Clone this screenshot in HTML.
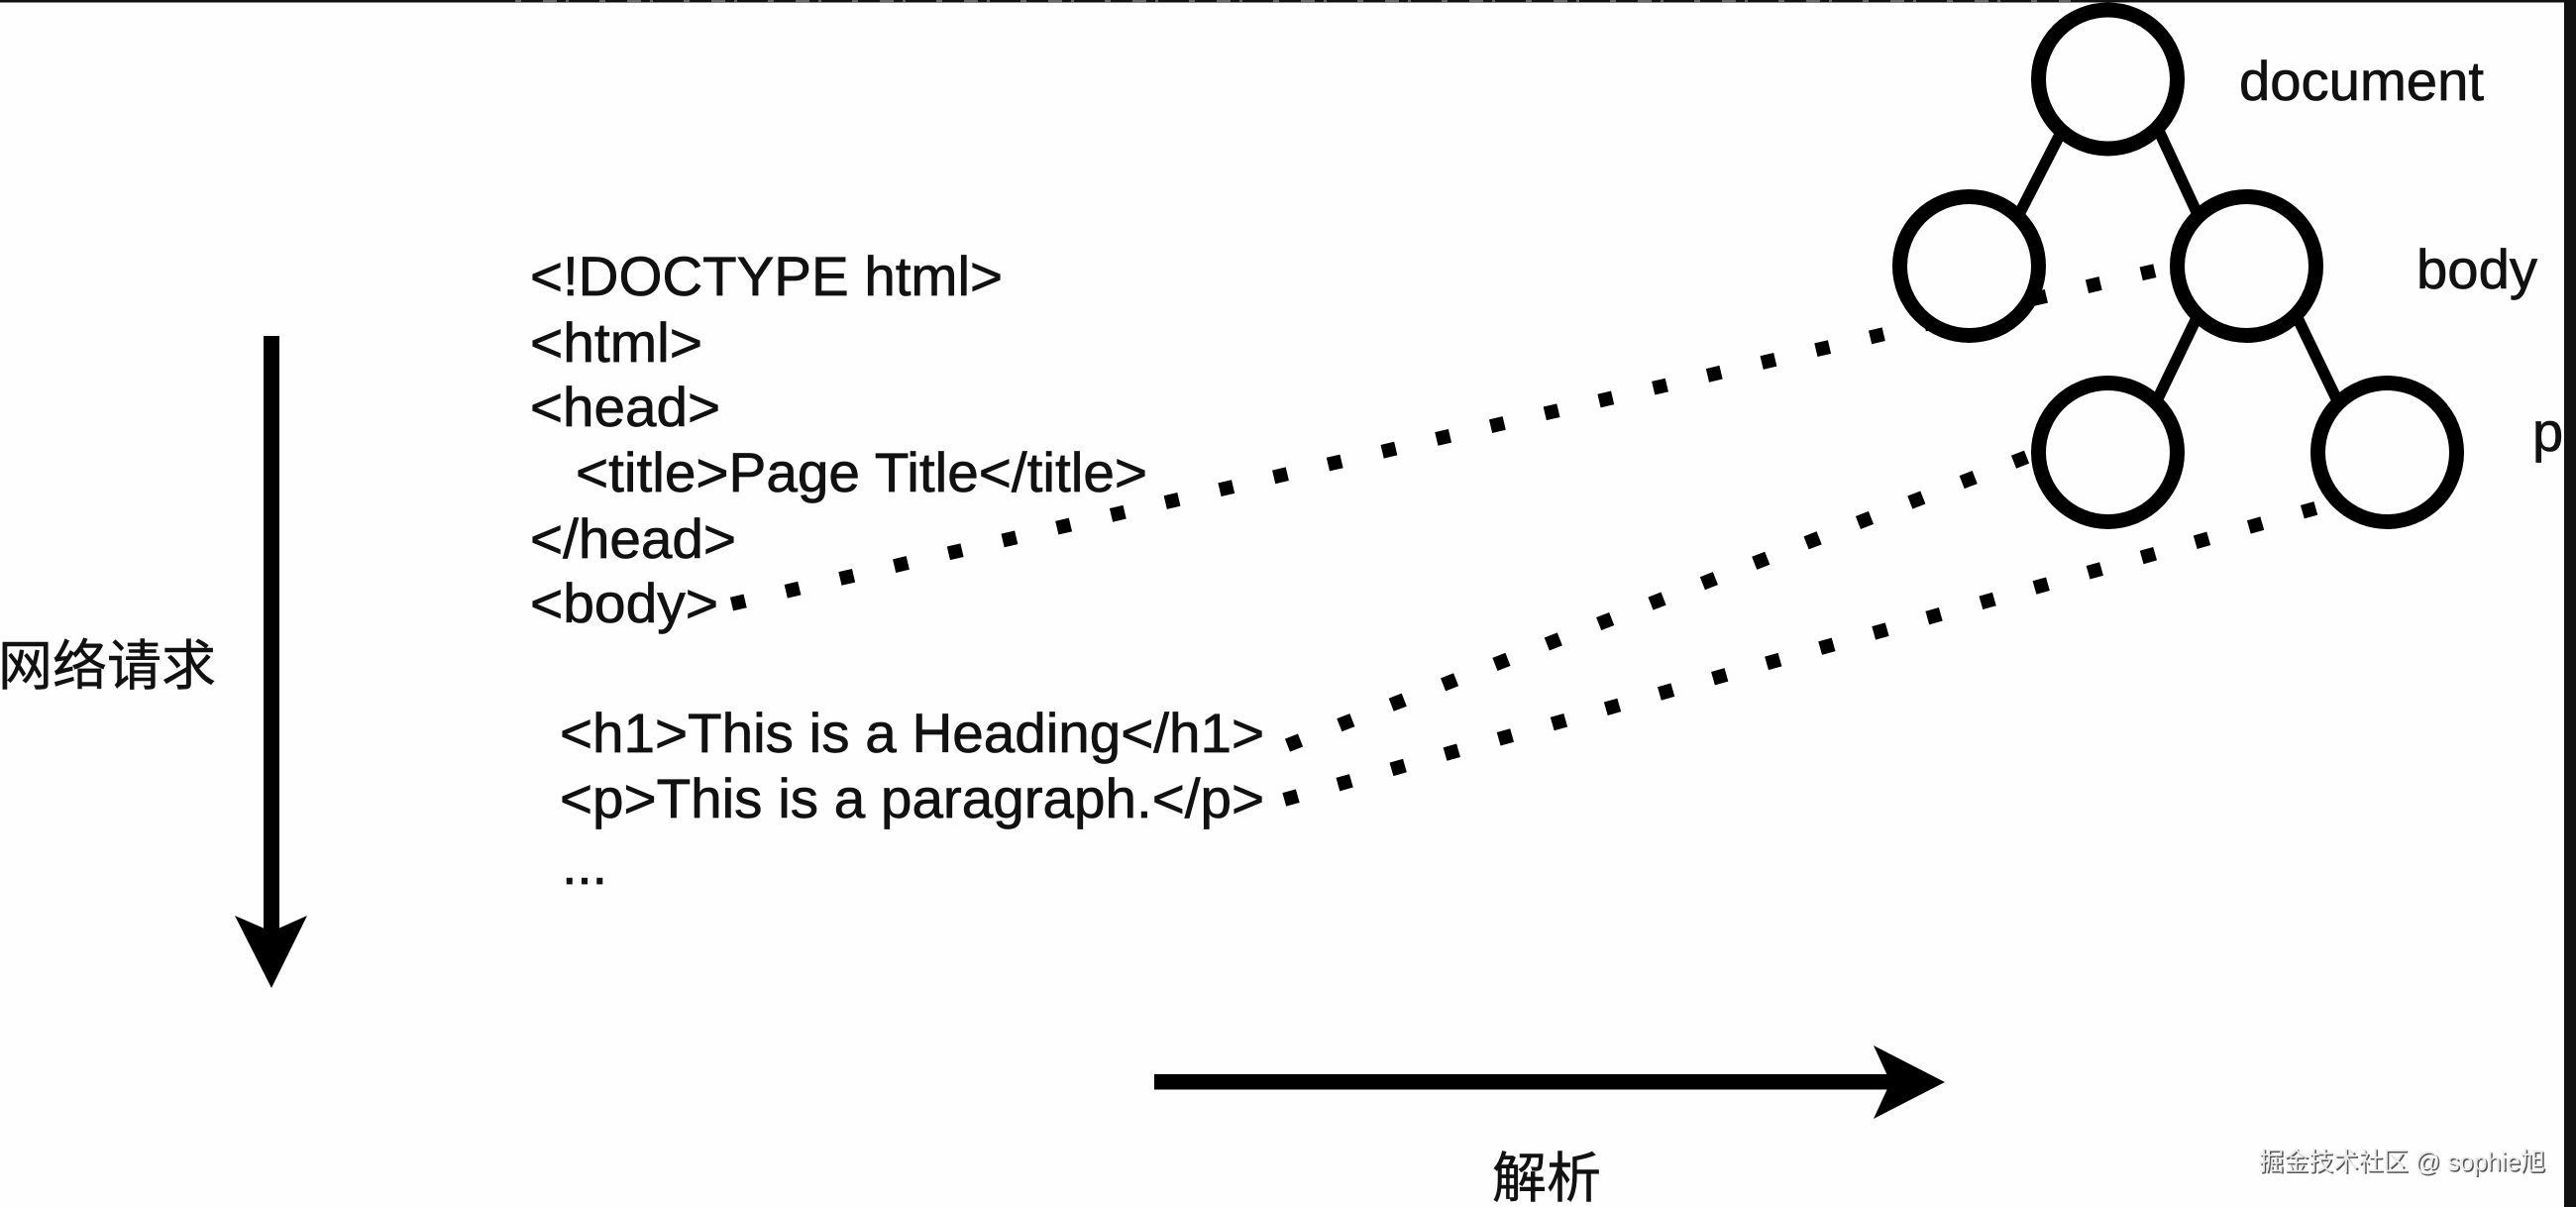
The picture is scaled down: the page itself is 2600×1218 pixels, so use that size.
<!DOCTYPE html>
<html>
<head>
<meta charset="utf-8">
<style>
html,body{margin:0;padding:0;background:#fefefe;width:2600px;height:1218px;overflow:hidden}
svg{display:block}
text{font-family:"Liberation Sans","Noto Sans CJK SC",sans-serif;fill:#111;font-size:56px;stroke:#111;stroke-width:.7px}
</style>
</head>
<body>
<svg width="2600" height="1218" viewBox="0 0 2600 1218" xmlns="http://www.w3.org/2000/svg">
<defs><clipPath id="c"><rect x="0" y="0" width="2588" height="1218"/></clipPath></defs>
<rect width="2600" height="1218" fill="#fefefe"/>

<!-- dotted connectors -->
<g fill="none" stroke="#000" stroke-width="14" stroke-dasharray="14 42.2">
<line x1="738.5" y1="609.6" x2="2178" y2="272.4"/>
<line x1="1299.5" y1="752.1" x2="2060" y2="455.5"/>
<line x1="1296.3" y1="806.9" x2="2345" y2="510.7"/>
</g>

<!-- tree edges -->
<g fill="none" stroke="#000" stroke-width="11.5">
<line x1="2080" y1="134" x2="2038" y2="216"/>
<line x1="2178" y1="130" x2="2218" y2="216"/>
<line x1="2218" y1="319" x2="2178" y2="402"/>
<line x1="2318" y1="319" x2="2358" y2="402"/>
</g>

<!-- tree nodes -->
<g fill="#fefefe" stroke="#000" stroke-width="15">
<circle cx="2127.5" cy="80" r="70"/>
<circle cx="1987.5" cy="268.5" r="70"/>
<circle cx="2267.5" cy="268.5" r="70"/>
<circle cx="2127.5" cy="456.5" r="70"/>
<circle cx="2409.5" cy="456.5" r="70"/>
</g>

<!-- tree labels -->
<text x="2260" y="101" textLength="247" lengthAdjust="spacingAndGlyphs">document</text>
<text x="2439" y="291" textLength="122" lengthAdjust="spacingAndGlyphs">body</text>
<text x="2556" y="455" clip-path="url(#c)">p</text>

<!-- code -->
<text x="535" y="298" textLength="477" lengthAdjust="spacingAndGlyphs">&lt;!DOCTYPE html&gt;</text>
<text x="535" y="365" textLength="174" lengthAdjust="spacingAndGlyphs">&lt;html&gt;</text>
<text x="535" y="430" textLength="192" lengthAdjust="spacingAndGlyphs">&lt;head&gt;</text>
<text x="581" y="496" textLength="577" lengthAdjust="spacingAndGlyphs">&lt;title&gt;Page Title&lt;/title&gt;</text>
<text x="535" y="563" textLength="208" lengthAdjust="spacingAndGlyphs">&lt;/head&gt;</text>
<text x="535" y="628" textLength="190" lengthAdjust="spacingAndGlyphs">&lt;body&gt;</text>
<text x="565" y="759" textLength="711" lengthAdjust="spacingAndGlyphs">&lt;h1&gt;This is a Heading&lt;/h1&gt;</text>
<text x="565" y="825" textLength="711" lengthAdjust="spacingAndGlyphs">&lt;p&gt;This is a paragraph.&lt;/p&gt;</text>
<text x="567" y="892" textLength="46">...</text>

<!-- down arrow -->
<rect x="266" y="339" width="16" height="605" fill="#000"/>
<polygon points="237,924 274,997 310,924 274,940" fill="#000"/>
<!-- right arrow -->
<rect x="1165" y="1084" width="750" height="15.5" fill="#000"/>
<polygon points="1891,1055 1963,1092 1891,1129 1908,1092" fill="#000"/>

<!-- CJK labels -->
<text x="-2" y="691" style="font-size:55px;stroke-width:.5px">网络请求</text>
<text x="1506" y="1208" style="font-size:55px;stroke-width:.5px">解析</text>

<!-- watermark -->
<text x="2280" y="1181" style="font-size:26px;fill:#555;stroke:none" textLength="289" lengthAdjust="spacingAndGlyphs" transform="translate(1.5,1.5)">掘金技术社区 @ sophie旭</text>
<text x="2280" y="1181" style="font-size:26px;fill:#ececec;stroke:none" textLength="289" lengthAdjust="spacingAndGlyphs">掘金技术社区 @ sophie旭</text>

<!-- dark screen edges -->
<rect x="0" y="0" width="2600" height="2.5" fill="#111"/>
<line x1="520" y1="1" x2="2090" y2="1" stroke="#666" stroke-width="2" stroke-dasharray="6 22 14 9 3 31"/>
<rect x="2588" y="0" width="12" height="1218" fill="#111"/>
</svg>
</body>
</html>
